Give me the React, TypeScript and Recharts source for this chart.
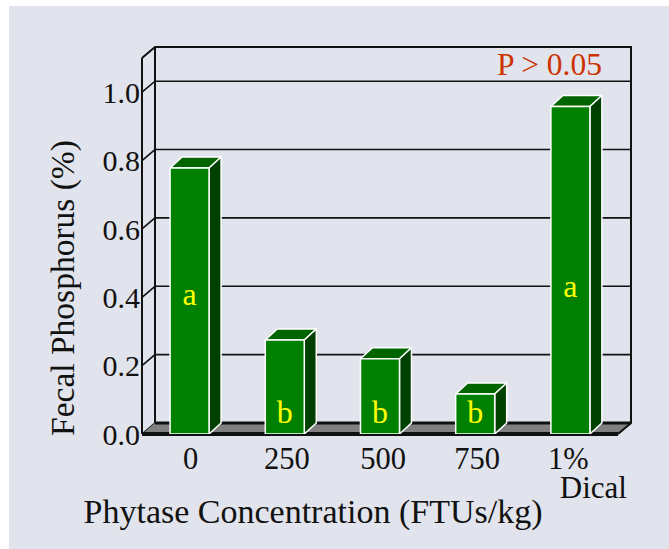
import React from 'react';
import { ComposedChart, Bar, Line, XAxis, YAxis, CartesianGrid, LabelList, ReferenceArea } from 'recharts';

const categories = ['0', '250', '500', '750', '1%'];
const phosphorus = [0.778, 0.275, 0.22, 0.117, 0.958];
const letters = ['a', 'b', 'b', 'b', 'a'];
const letterHeights = [0.41, 0.064, 0.064, 0.064, 0.433];
const yTicks = [0, 0.2, 0.4, 0.6, 0.8, 1.0];

const data = categories.map((name, i) => ({
  name,
  phosphorus: phosphorus[i],
  letter: letters[i],
  letterHeight: letterHeights[i],
}));

const DX = 13;
const DY = 11;
const serif = '"Liberation Serif", "Times New Roman", serif';
const tickNudge = [1, 2, 3, 2, -2];

// back wall, side wall and grey floor behind the bars
const Room = (props: any) => {
  const { x, y, width, height } = props;
  const b = y + height;
  const r = x + width;
  return (
    <g fill="none" stroke="#111" strokeWidth={2}>
      <path d={`M${x},${b} L${x + DX},${b - DY} L${r + DX},${b - DY} L${r},${b} Z`} fill="#808080" stroke="none" />
      <path d={`M${x},${y} L${x + DX},${y - DY} L${r + DX},${y - DY} L${r + DX},${b - DY} L${r},${b}`} />
      <line x1={x + DX} y1={y - DY} x2={x + DX} y2={b - DY} />
      <line x1={x + DX} y1={b - DY} x2={r + DX} y2={b - DY} strokeWidth={3} />
      <line x1={x} y1={y} x2={x} y2={b} />
      <line x1={x} y1={b} x2={r} y2={b} strokeWidth={4} />
    </g>
  );
};

const GridLine = (props: any) => {
  const { x1, x2, y1 } = props;
  return (
    <path
      d={`M${x1},${y1} L${x1 + DX},${y1 - DY} L${x2 + DX},${y1 - DY}`}
      fill="none"
      stroke="#111"
      strokeWidth={1.6}
    />
  );
};

const Box = (props: any) => {
  const { x, y, width, height } = props;
  const r = x + width;
  const b = y + height;
  return (
    <g stroke="#fff" strokeWidth={1.5} strokeLinejoin="round">
      <path d={`M${x},${y} L${x + DX - 1},${y - DY} L${r + DX - 1},${y - DY} L${r},${y} Z`} fill="#006400" />
      <path d={`M${r},${y} L${r + DX - 1},${y - DY} L${r + DX - 1},${b - DY} L${r},${b} Z`} fill="#004000" />
      <rect x={x} y={y} width={width} height={height} fill="#008000" />
    </g>
  );
};

const XTick = (props: any) => {
  const { x, y, payload, index } = props;
  return (
    <g fontFamily={serif} fontSize={30.5} fill="#111">
      <text x={x + tickNudge[index]} y={y + 27} textAnchor="middle">{payload.value}</text>
      {payload.value === '1%' && <text x={x + 23} y={y + 56} textAnchor="middle" fontSize={31}>Dical</text>}
    </g>
  );
};

export default function App() {
  return (
    <div style={{ position: 'absolute', left: 0, top: 0, width: 669, height: 549, background: '#fff' }}>
      <div style={{ position: 'absolute', left: 9, top: 6, width: 660, height: 543, background: '#e1e4ec' }} />
      <div style={{ position: 'absolute', left: 0, top: 0 }}>
        <ComposedChart
          width={669}
          height={549}
          data={data}
          barCategoryGap="29.5%"
          margin={{ top: 58, right: 51, bottom: 0, left: 0 }}
        >
          <ReferenceArea y1={0} y2={1.1} shape={<Room />} fill="none" ifOverflow="extendDomain" />
          <CartesianGrid horizontal={<GridLine />} vertical={false} syncWithTicks />
          <XAxis dataKey="name" axisLine={false} tickLine={false} interval={0} tick={<XTick />} height={115} />
          <YAxis
            domain={[0, 1.1]}
            ticks={yTicks}
            width={142}
            axisLine={false}
            tickLine={false}
            tickMargin={-4}
            tickFormatter={(v: number) => v.toFixed(1)}
            tick={{ fontFamily: serif, fontSize: 30, fill: '#111' }}
            allowDataOverflow
          />
          <Bar dataKey="phosphorus" shape={<Box />} isAnimationActive={false} />
          <Line dataKey="letterHeight" stroke="none" dot={false} activeDot={false} isAnimationActive={false}>
            <LabelList dataKey="letter" position="center" fill="#ffff00" fontFamily={serif} fontSize={32} />
          </Line>
          <text x={549.5} y={75} textAnchor="middle" fontFamily={serif} fontSize={31.5} fill="#cc3300">P &gt; 0.05</text>
          <text x={313} y={523} textAnchor="middle" fontFamily={serif} fontSize={34} fill="#111">Phytase Concentration (FTUs/kg)</text>
          <text transform="translate(74,288) rotate(-90)" textAnchor="middle" fontFamily={serif} fontSize={33.5} fill="#111">Fecal Phosphorus (%)</text>
        </ComposedChart>
      </div>
    </div>
  );
}
